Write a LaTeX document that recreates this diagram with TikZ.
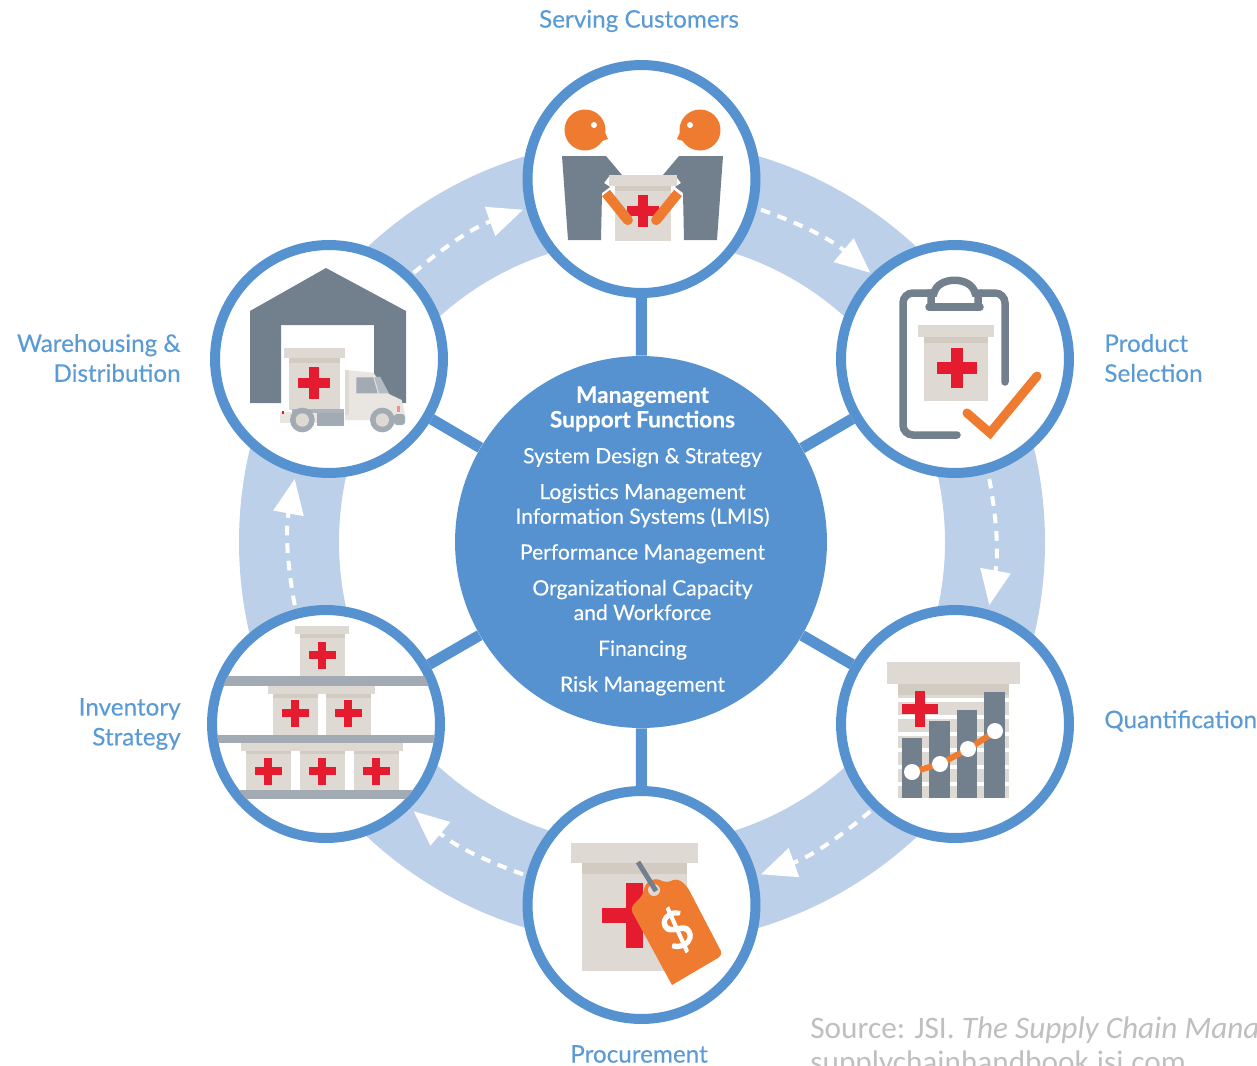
\documentclass[tikz,border=0pt]{standalone}
\usepackage{fontspec}
\setmainfont{Lato}
\newfontfamily\srcfont{Carlito}
\newfontfamily\medfont[FakeBold=0.25]{Lato}
\newfontfamily\heavyfont[FakeBold=2.5]{Lato}
\usetikzlibrary{arrows.meta}
\definecolor{hubblue}{HTML}{5592CF}
\definecolor{ringblue}{HTML}{BDD0EA}
\definecolor{labelblue}{HTML}{5B9BD5}
\definecolor{slate}{HTML}{72808E}
\definecolor{shelfgray}{HTML}{A2AAB4}
\definecolor{tagorange}{HTML}{EE7B30}
\definecolor{crossred}{HTML}{E51C30}
\definecolor{cratetan}{HTML}{DFD9D3}
\definecolor{crateshade}{HTML}{D2CBC1}
\definecolor{truckpale}{HTML}{E9E5E0}
\definecolor{srcgray}{HTML}{BFBFBF}
\tikzset{
	stage/.style={circle,draw=hubblue,line width=0.2cm,fill=white,minimum size=4.56cm,inner sep=0pt},
	hubdisc/.style={circle,fill=hubblue,minimum size=7.44cm,inner sep=0pt},
	hubtext/.style={text=white,inner sep=0pt,align=center,font=\medfont\fontsize{12}{14}\selectfont},
	spoke/.style={draw=hubblue,line width=0.22cm},
	flow/.style={draw=white,line width=0.08cm,dash pattern=on 5.5pt off 4.5pt,-{Triangle[length=0.7cm,width=0.6cm]}},
	steplabel/.style={text=labelblue,inner sep=0pt,font=\medfont\fontsize{13.8}{17}\selectfont},
	srctext/.style={text=srcgray,inner sep=0pt,anchor=base west,font=\srcfont\fontsize{17.8}{20}\selectfont},
	crate/.pic={
		\fill[cratetan] (-22.5,8) rectangle (22.5,50);
		\fill[crateshade] (-22.5,8) rectangle (22.5,12);
		\fill[cratetan] (-27,0) rectangle (27,8);
	},
	redcross/.pic={
		\fill[crossred] (-13.5,-4) rectangle (13.5,4);
		\fill[crossred] (-4,-13.5) rectangle (4,13.5);
	}
}
\begin{document}
\begin{tikzpicture}[x=0.02cm,y=-0.02cm]
	\useasboundingbox (0,0) rectangle (1257,1065);
	\coordinate (ctr) at (642,542);
	\draw[ringblue,line width=2cm] (ctr) circle[radius=353];

	\foreach \i/\a in {1/-60,2/0,3/60,4/120,5/180,6/240} {
		\coordinate (flow\i a) at ([shift={(\a-10.3:353)}]ctr);
		\coordinate (flow\i b) at ([shift={(\a+10.3:353)}]ctr);
		\draw[flow] (flow\i a) to[bend left=10.3] (flow\i b);
	}

	\node[stage] (serving) at (641.5,179) {};
	\node[stage] (product) at (955,359) {};
	\node[stage] (quant) at (955,724) {};
	\node[stage] (procure) at (641.5,905) {};
	\node[stage] (inventory) at (326,724) {};
	\node[stage] (warehouse) at (329,359) {};

	\node[hubdisc] (hub) at (641,542) {};
	\node[hubtext] (hubt) at (642.5,541) {%
		{\bfseries\fontsize{12.9}{14}\selectfont Management}\\
		{\bfseries\fontsize{12.9}{14}\selectfont Support Functions}\\[6.4pt]
		System Design \& Strategy\\[6.4pt]
		Logistics Management\\Information Systems (LMIS)\\[6.4pt]
		Performance Management\\[6.4pt]
		Organizational Capacity\\and Workforce\\[6.4pt]
		Financing\\[6.4pt]
		Risk Management};

	\draw[spoke] (hub) to (serving);
	\draw[spoke] (hub) to (product);
	\draw[spoke] (hub) to (quant);
	\draw[spoke] (hub) to (procure);
	\draw[spoke] (hub) to (inventory);
	\draw[spoke] (hub) to (warehouse);

	\node[steplabel] (lserving) at (639,21) {Serving Customers};
	\node[steplabel,anchor=west,align=left] (lproduct) at (1104,358) {Product\\Selection};
	\node[steplabel,anchor=west] (lquant) at (1104,721) {Quantification};
	\node[steplabel] (lprocure) at (639,1054) {Procurement};
	\node[steplabel,anchor=east,align=right] (linventory) at (181,724) {Inventory\\Strategy};
	\node[steplabel,anchor=east,align=right] (lwarehouse) at (181,358) {Warehousing \&\\Distribution};

	\node[srctext] (source) at (810,1038) {Source: JSI. \textit{The Supply Chain Mana}};
	\node[srctext] (sourcelink) at (810,1072) {supplychainhandbook.jsi.com};

	% serving customers
	\fill[tagorange] (585,130) circle[radius=20.5];
	\fill[tagorange] (597,115) -- (608,139) -- (590,145) -- cycle;
	\fill[white] (594,125) circle[radius=3];
	\fill[tagorange] (700,130) circle[radius=20.5];
	\fill[tagorange] (688,115) -- (677,139) -- (695,145) -- cycle;
	\fill[white] (690,125) circle[radius=3];
	\fill[slate] (562,156) -- (606,156) -- (622,175) -- (610,175) -- (604,183) -- (610,187) -- (602,193) -- (601,240) -- (568,240) -- cycle;
	\fill[slate] (723,156) -- (679,156) -- (663,175) -- (675,175) -- (681,183) -- (675,187) -- (683,193) -- (684,240) -- (717,240) -- cycle;
	\pic[xscale=1.25,yscale=1.32] at (643,175) {crate};
	\pic[scale=1.22] at (643,211) {redcross};
	\draw[tagorange,line width=0.2cm,-{Round Cap}] (606,193) -- (631,224);
	\draw[tagorange,line width=0.2cm,-{Round Cap}] (678,193) -- (653,224);

	% product selection
	\begin{scope}[slate,line width=0.15cm,line cap=round]
		\draw[rounded corners=0.2cm] (1005,382) -- (1005,293) -- (982,293);
		\draw[rounded corners=0.2cm] (931,293) -- (903,293) -- (903,435) -- (957,435);
		\draw (929,307) -- (980,307);
		\draw (931,307) -- (931,293) -- (934,293) .. controls (938,276) and (971,276) .. (975,293) -- (978,293) -- (978,307);
	\end{scope}
	\pic[xscale=1.42,yscale=1.52] at (956,325) {crate};
	\pic[scale=1.45] at (957,368) {redcross};
	\draw[tagorange,line width=0.18cm,line cap=round] (967,413) -- (990,433) -- (1037,376);

	% quantification
	\pic[xscale=2.47,yscale=2.72] at (953.5,662) {crate};
	\foreach \s in {698,715,732,748,765,782} {
		\fill[white] (895,\s) rectangle (1012,\s+4);
	}
	\pic[scale=1.3] at (920,709) {redcross};
	\fill[slate] (902,738) rectangle (922,798);
	\fill[slate] (929,721) rectangle (950,798);
	\fill[slate] (957,710) rectangle (977,798);
	\fill[slate] (984,692) rectangle (1005,798);
	\draw[tagorange,line width=0.12cm] (912,772) -- (940,764) -- (968,749) -- (996,731);
	\foreach \px/\py in {912/772,940/764,968/749,995/731} {
		\fill[white] (\px,\py) circle[radius=8];
	}

	% procurement
	\pic[xscale=2.35,yscale=2.56] at (634.5,843) {crate};
	\fill[crossred] (602,908) rectangle (670,923);
	\fill[crossred] (626,883) rectangle (643,948);
	\fill[tagorange] (723,955) -- (672,985) [rounded corners=0.1cm] -- (630,908) -- (643,895) -- (645,884) -- (655,878) -- (667,883) -- (677,878) -- (687,886) -- cycle;
	\fill[cratetan] (654,890) circle[radius=6];
	\draw[slate,line width=0.1cm] (638,862) -- (656,891);
	\node[text=white,inner sep=0pt,rotate=28,font=\heavyfont\fontsize{29}{29}\selectfont] (dollar) at (677,930) {\$};

	% inventory strategy
	\begin{scope}
		\clip (326,724) circle[radius=109.5];
		\fill[shelfgray] (205,676) rectangle (445,686);
		\fill[shelfgray] (205,735) rectangle (445,743);
		\fill[shelfgray] (205,790) rectangle (445,799);
	\end{scope}
	\pic at (322,626) {crate};
	\pic[yscale=0.98] at (295,686) {crate};
	\pic[yscale=0.98] at (348,686) {crate};
	\pic[yscale=0.94] at (268,743) {crate};
	\pic[yscale=0.94] at (322,743) {crate};
	\pic[yscale=0.94] at (376,743) {crate};
	\foreach \px/\py in {322/655,295/713,348/713,268/771,322/771,376/771} {
		\pic at (\px,\py) {redcross};
	}

	% warehousing
	\fill[slate] (250,311) -- (326,268) -- (406,311) -- (406,403) -- (374,403) -- (374,325) -- (281,325) -- (281,403) -- (250,403) -- cycle;
	\pic[xscale=1.13,yscale=1.24] at (314.5,348) {crate};
	\pic[scale=1.15] at (314,383) {redcross};
	\begin{scope}[shift={(195,230)},scale=1/3]
		\fill[truckpale] (450,420) -- (535,428) -- (582,492) -- (620,510) -- (630,552) -- (630,570) -- (450,570) -- cycle;
		\fill[shelfgray] (484,442) -- (535,442) -- (548,490) -- (484,490) -- cycle;
		\fill[shelfgray!80] (538,442) -- (555,440) -- (582,490) -- (552,490) -- cycle;
		\fill[cratetan] (450,420) rectangle (462,555);
		\fill[truckpale] (255,545) rectangle (365,580);
		\fill[crossred] (260,543) rectangle (266,552);
		\fill[shelfgray] (365,548) rectangle (447,588);
		\fill[slate!60] (290,538) rectangle (447,548);
		\fill[shelfgray,rounded corners=0.06cm] (597,552) rectangle (630,585);
		\fill[crossred!50] (606,528) rectangle (616,545);
		\foreach \wx in {322,562} {
			\fill[shelfgray] (\wx,570) circle[radius=37];
			\fill[cratetan] (\wx,570) circle[radius=20];
		}
	\end{scope}
\end{tikzpicture}
\end{document}
